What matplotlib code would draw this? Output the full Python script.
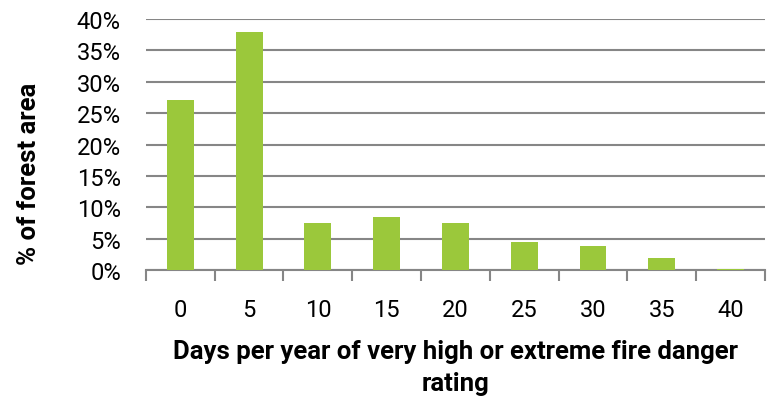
import numpy as np
import matplotlib.pyplot as plt

plt.rcParams['font.family'] = ['Roboto', 'DejaVu Sans']

# share of forest area by days per year of very high / extreme fire danger
days = ['0', '5', '10', '15', '20', '25', '30', '35', '40']
area_pct = [27.1, 37.9, 7.45, 8.4, 7.45, 4.5, 3.85, 1.85, 0.15]

bar_col = '#9bc83b'
grid_col = '#868686'

fig = plt.figure(figsize=(7.72, 4.02), dpi=100)
ax = fig.add_axes([0.189, 0.326, 0.802, 0.624])

x = np.arange(len(days))
ax.bar(x, area_pct, width=0.39, color=bar_col, zorder=3)

ax.set_xlim(-0.5, len(days) - 0.5)
ax.set_ylim(0, 40)
ax.set_yticks(np.arange(0, 41, 5))
ax.set_yticklabels([f'{v}%' for v in range(0, 41, 5)])
ax.yaxis.grid(True, color=grid_col, lw=1.5, zorder=0)

for s in ['top', 'right', 'left']:
    ax.spines[s].set_visible(False)
ax.spines['bottom'].set_color(grid_col)
ax.spines['bottom'].set_linewidth(1.5)

# category labels centred, tick marks on the category boundaries
ax.set_xticks(x)
ax.set_xticklabels(days)
ax.tick_params(axis='x', length=0, pad=20, labelsize=17)
ax.set_xticks(np.arange(-0.5, len(days), 1), minor=True)
ax.tick_params(axis='x', which='minor', length=8, width=1.5, color=grid_col)
ax.tick_params(axis='y', length=0, pad=18, labelsize=17)

ax.set_ylabel('% of forest area', fontsize=18.5, fontweight='bold',
              labelpad=26, y=0.386)
ax.set_xlabel('Days per year of very high or extreme fire danger\nrating',
              fontsize=18.5, fontweight='bold', labelpad=13, linespacing=1.45)

fig.savefig('out.png', dpi=100)
